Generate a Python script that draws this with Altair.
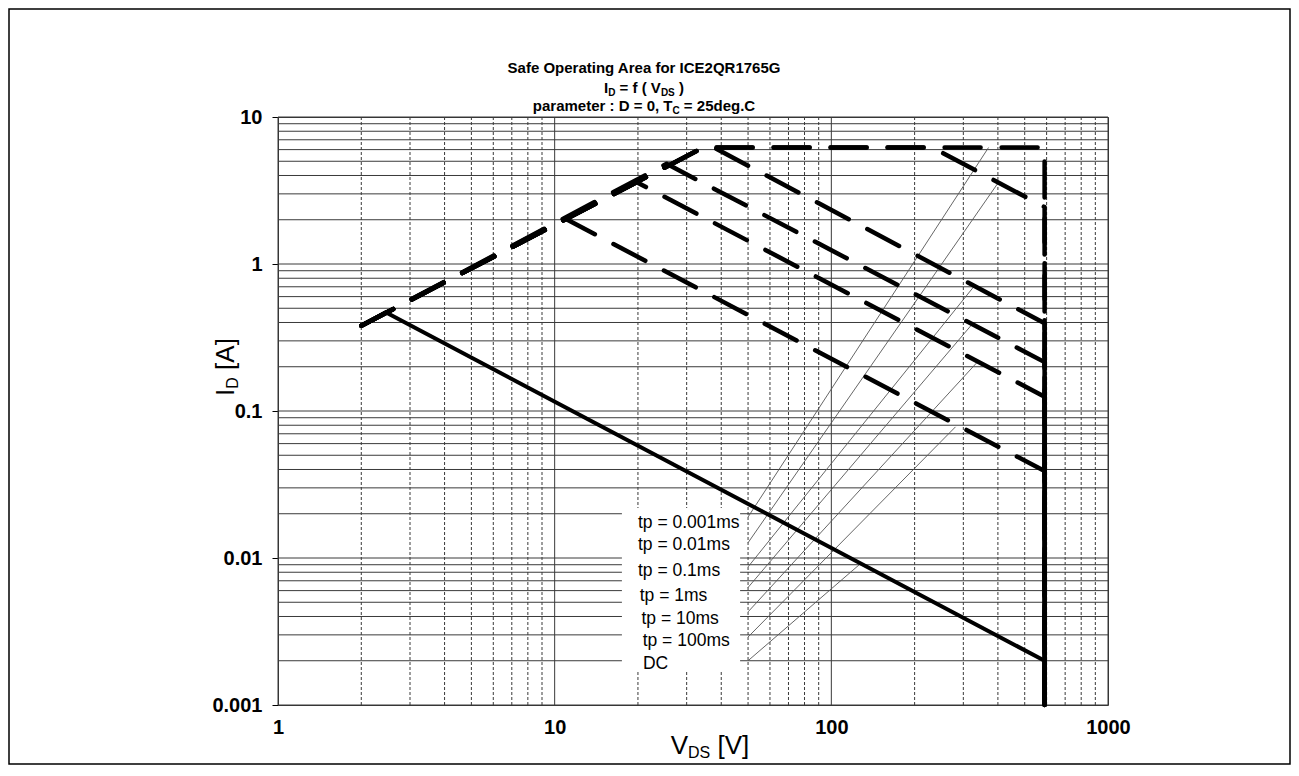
import altair as alt
import pandas as pd

# ---------------- data ----------------
series_names = ["tp = 0.001ms", "tp = 0.01ms", "tp = 0.1ms", "tp = 1ms",
                "tp = 10ms", "tp = 100ms", "DC"]

# SOA boundary curves (V_DS [V], I_D [A])
tp0001_v = [2, 34.4, 590, 590]
tp0001_i = [0.38, 6.2, 6.2, 0.001]
tp001_v = [2, 34.4, 232, 590, 590]
tp001_i = [0.38, 6.2, 6.2, 2.44, 0.001]
tp01_v = [2, 34.4, 37.6, 590, 590]
tp01_i = [0.38, 6.2, 6.2, 0.395, 0.001]
tp1_v = [2, 25.4, 590, 590]
tp1_i = [0.38, 4.8, 0.215, 0.001]
tp10_v = [2, 19.8, 590, 590]
tp10_i = [0.38, 3.6, 0.125, 0.001]
tp100_v = [2, 10.9, 590, 590]
tp100_i = [0.38, 2.04, 0.039, 0.001]
dc_v = [2, 2.45, 590, 590]
dc_i = [0.38, 0.47, 0.002, 0.001]

# leader lines from the labels to the curves
leader_start_v = [50, 50, 50, 50, 50, 50, 50]
leader_start_i = [0.019, 0.0127, 0.0087, 0.0063, 0.0043, 0.0029, 0.002]
leader_end_v = [370, 398, 327, 323, 337, 281, 127]
leader_end_i = [6.2, 3.5, 0.70, 0.39, 0.215, 0.078, 0.0091]

# label anchors
label_v = [20, 20, 20, 20.3, 20.6, 20.8, 20.85]
label_i = [0.0173, 0.01225, 0.00815, 0.00551, 0.00385, 0.00273, 0.0019]

# white label box
box_v = [17.5, 46.8]
box_i = [0.0219, 0.00168]

# axis ticks / grid values
x_major = [1, 10, 100, 1000]
x_minor = [2, 3, 4, 5, 6, 7, 8, 9, 20, 30, 40, 50, 60, 70, 80, 90,
           200, 300, 400, 500, 600, 700, 800, 900]
y_major = [0.001, 0.01, 0.1, 1, 10]
y_minor = [0.002, 0.003, 0.004, 0.005, 0.006, 0.007, 0.008, 0.009,
           0.02, 0.03, 0.04, 0.05, 0.06, 0.07, 0.08, 0.09,
           0.2, 0.3, 0.4, 0.5, 0.6, 0.7, 0.8, 0.9,
           2, 3, 4, 5, 6, 7, 8, 9]

# ---------------- build tables ----------------
curve_v = [tp0001_v, tp001_v, tp01_v, tp1_v, tp10_v, tp100_v, dc_v]
curve_i = [tp0001_i, tp001_i, tp01_i, tp1_i, tp10_i, tp100_i, dc_i]
rows = []
for name, vs, is_ in zip(series_names, curve_v, curve_i):
    for k, (v, i) in enumerate(zip(vs, is_)):
        rows.append({"s": name, "k": k, "V": v, "I": i})
curves = pd.DataFrame(rows)
dashed = curves[curves.s != "DC"]
solid = curves[curves.s == "DC"]

lrows = []
for name, v0, i0, v1, i1 in zip(series_names, leader_start_v, leader_start_i,
                                 leader_end_v, leader_end_i):
    lrows.append({"s": name, "k": 0, "V": v0, "I": i0})
    lrows.append({"s": name, "k": 1, "V": v1, "I": i1})
leaders = pd.DataFrame(lrows)

labels = pd.DataFrame({"s": series_names, "V": label_v, "I": label_i})
box = pd.DataFrame({"V": [box_v[0]], "V2": [box_v[1]], "I": [box_i[0]], "I2": [box_i[1]]})

FONT = "Liberation Sans"
xs = alt.Scale(type="log", domain=[1, 1000], nice=False)
ys = alt.Scale(type="log", domain=[0.001, 10], nice=False)

xaxis = alt.Axis(values=x_major, format="~r", labelFont=FONT, labelFontSize=20,
                 labelFontWeight="bold", labelColor="black", ticks=False,
                 domain=False, grid=False, labelPadding=12, labelFlush=False,
                 labelOverlap=False, title=None)
yaxis = alt.Axis(values=y_major, format="~r", labelFont=FONT, labelFontSize=20,
                 labelFontWeight="bold", labelColor="black", ticks=True,
                 tickSize=6, tickColor="black", tickWidth=1, domain=False,
                 grid=False, labelPadding=10, labelFlush=False,
                 labelOverlap=False, title=None)


def X(f="V"):
    return alt.X(f, type="quantitative", scale=xs, axis=xaxis)


def Y(f="I"):
    return alt.Y(f, type="quantitative", scale=ys, axis=yaxis)


grid_h = alt.Chart(pd.DataFrame({"I": y_major + y_minor})).mark_rule(
    color="#3a3a3a", strokeWidth=1).encode(y=Y())
grid_vmin = alt.Chart(pd.DataFrame({"V": x_minor})).mark_rule(
    color="#3a3a3a", strokeWidth=1, strokeDash=[3, 2]).encode(x=X())
grid_vmaj = alt.Chart(pd.DataFrame({"V": x_major})).mark_rule(
    color="#3a3a3a", strokeWidth=1).encode(x=X())

box_layer = alt.Chart(box).mark_rect(fill="white").encode(
    x=X(), x2="V2", y=Y(), y2="I2")

leader_layer = alt.Chart(leaders).mark_line(color="#555555", strokeWidth=0.9).encode(
    x=X(), y=Y(), detail="s:N", order="k:Q")

dashed_layer = alt.Chart(dashed).mark_line(
    color="black", strokeWidth=4.5, strokeDash=[36, 21], strokeCap="round",
    strokeJoin="round").encode(x=X(), y=Y(), detail="s:N", order="k:Q")

solid_layer = alt.Chart(solid).mark_line(
    color="black", strokeWidth=4, strokeJoin="round").encode(
    x=X(), y=Y(), detail="s:N", order="k:Q")

label_layer = alt.Chart(labels).mark_text(
    font=FONT, fontSize=17.5, align="left", baseline="middle", color="black").encode(
    x=X(), y=Y(), text="s:N")

# ---------------- title / axis titles with subscripts ----------------
BOLD = {' ': 278, '(': 333, ')': 333, ',': 278, '.': 278, ':': 333, '=': 584,
        '[': 333, ']': 333, 'A': 722, 'C': 722, 'D': 722, 'S': 667, 'T': 611,
        'V': 667, 'I': 278, 'a': 556, 'd': 611, 'e': 556, 'f': 333, 'g': 611,
        'm': 889, 'p': 611, 'r': 389, 't': 333}
REG = {' ': 278, '[': 278, ']': 278, 'A': 667, 'V': 667, 'D': 722, 'S': 667,
       'I': 278}


def tw(s, size, bold):
    tab = BOLD if bold else REG
    return sum(tab.get(c, 556) for c in s) / 1000 * size


dummy = pd.DataFrame({"a": [0]})


def txt(s, x, y, size, bold=False, angle=0, align="left"):
    return alt.Chart(dummy).mark_text(
        text=s, font=FONT, fontSize=size, fontWeight="bold" if bold else "normal",
        align=align, baseline="alphabetic", angle=angle, color="black").encode(
        x=alt.value(x), y=alt.value(y))


def hrow(frags, cx, y, bold):
    total = sum(tw(s, sz, bold) for s, sz, dy in frags)
    x = cx - total / 2
    out = []
    for s, sz, dy in frags:
        lead = len(s) - len(s.lstrip(" "))
        out.append(txt(s.strip(" "), x + lead * tw(" ", sz, bold), y + dy, sz, bold))
        x += tw(s, sz, bold)
    return out


def vrow(frags, x, cy, bold):
    total = sum(tw(s, sz, bold) for s, sz, dx in frags)
    y = cy + total / 2
    out = []
    for s, sz, dx in frags:
        lead = len(s) - len(s.lstrip(" "))
        out.append(txt(s.strip(" "), x + dx, y - lead * tw(" ", sz, bold), sz, bold, angle=270))
        y -= tw(s, sz, bold)
    return out


PW, PH = 830, 588
TX = 366  # title centre (relative to plot origin)
title_layers = [txt("Safe Operating Area for ICE2QR1765G", TX, -44, 15, True, align="center")]
title_layers += hrow([("I", 15, 0), ("D", 10, 3), (" = f ( V", 15, 0), ("DS", 10, 3), (" )", 15, 0)],
                     TX, -24, True)
title_layers += hrow([("parameter : D = 0, T", 15, 0), ("C", 10, 3), (" = 25deg.C", 15, 0)],
                     TX, -6, True)
xtitle = hrow([("V", 26, 0), ("DS", 16, 4), (" [V]", 26, 0)], 432, 637, False)
ytitle = vrow([("I", 26, 0), ("D", 16, 4), (" [A]", 26, 0)], -44, 250, False)

# outer chart-area frame (pixel positions relative to the plot origin)
frame = alt.Chart(dummy).mark_rect(fill=None, stroke="black", strokeWidth=1.5).encode(
    x=alt.value(-269), x2=alt.value(1012), y=alt.value(-108), y2=alt.value(647))

chart = alt.layer(
    grid_h, grid_vmin, grid_vmaj, box_layer, leader_layer, solid_layer,
    dashed_layer, label_layer, *title_layers, *xtitle, *ytitle, frame
).properties(
    width=PW, height=PH, autosize="none",
    padding={"left": 270, "top": 109, "right": 183, "bottom": 60},
    background="white"
).configure_view(stroke="#333333", strokeWidth=1)

chart.save("out.html", embed_options={"renderer": "svg", "actions": False})
